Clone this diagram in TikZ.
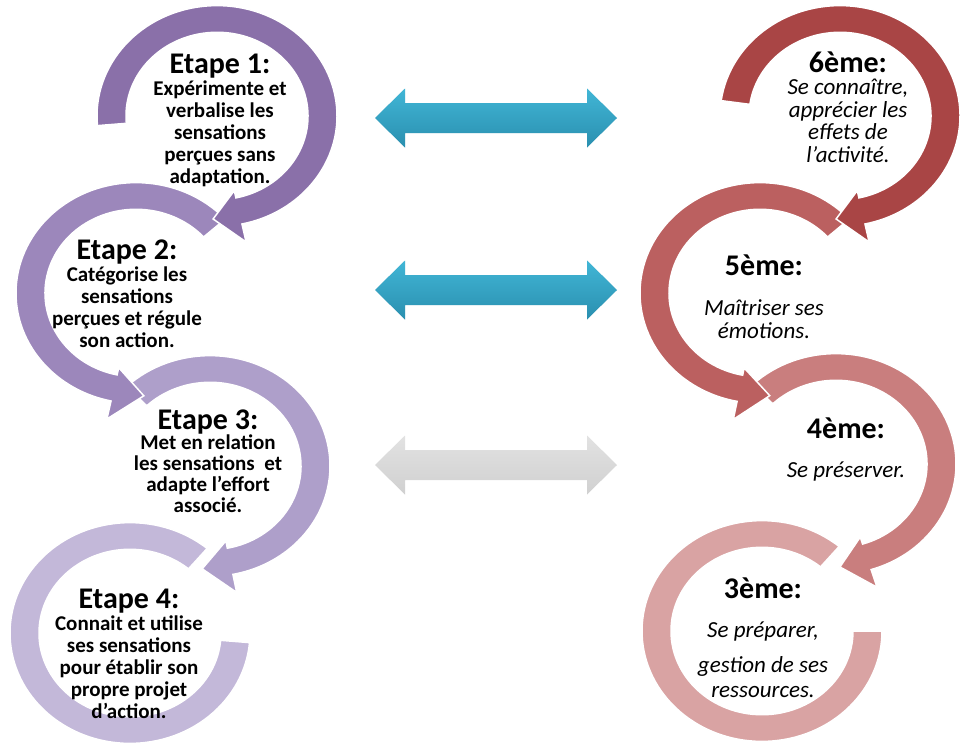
\documentclass[tikz,border=0pt]{standalone}
\usepackage{fontspec}
\setmainfont{Carlito}
\usetikzlibrary{calc}

\definecolor{purpA}{HTML}{8A70A9}
\definecolor{purpB}{HTML}{9C87BB}
\definecolor{purpC}{HTML}{AE9FCA}
\definecolor{purpD}{HTML}{C3B8D9}
\definecolor{redA}{HTML}{A94545}
\definecolor{redB}{HTML}{BB6060}
\definecolor{redC}{HTML}{C97E7E}
\definecolor{redD}{HTML}{D9A3A3}
\definecolor{linkT}{HTML}{41B6D6}
\definecolor{linkB}{HTML}{2A8FAF}
\definecolor{fadeT}{HTML}{E2E2E2}
\definecolor{fadeB}{HTML}{D0D0D0}

\newcommand{\stagetitle}[1]{{\bfseries\upshape\fontsize{30}{30}\selectfont #1}}

\begin{document}
\begin{tikzpicture}[x=1pt,y=1pt,
	stageL/.style={align=center,inner sep=0pt,anchor=base,font=\bfseries\fontsize{21}{22}\selectfont},
	stageR/.style={align=center,inner sep=0pt,anchor=base,font=\itshape\fontsize{23}{22.5}\selectfont}]
	\useasboundingbox (0,0) rectangle (960,-753);
	% rings (lower ones first)
	\foreach \cx/\cy/\a/\b/\t/\h/\col in {130/633/50/355/355/0/purpD,210/466/134/-79/-94/1/purpC,136/293/42/258/274/1/purpB,217/116/185/-78/-92/1/purpA,762/631/50/360/360/0/redD,836/464/134/-73/-88/1/redC,760/293/42/259/275/1/redB,840/116/172/-78/-92/1/redA}{
		\begin{scope}[shift={(\cx,-\cy)},yscale=0.92]
			\fill[\col,draw=white,line width=1.5] (\a:120) arc[start angle=\a,end angle=\b,radius=120] -- (\b:{120+20*\h}) -- (\t:112) -- (\b:{91-8*\h}) -- (\b:91) arc[start angle=\b,end angle=\a,radius=91] -- cycle;
		\end{scope}
	}
	% links between the two columns
	\foreach \y/\ct/\cb/\sh [count=\i] in {118/linkT/linkB/8,290/linkT/linkB/8,465/fadeT/fadeB/0}{
		\coordinate (l\i) at (375,-\y);
		\coordinate (r\i) at (617,-\y);
		\fill[black!\sh,shift={(1,-3)}] (l\i) -- ++(30,29.5) -- ++(0,-14.5) -- ($(r\i)+(-30,15)$) -- ++(0,14.5) -- (r\i) -- ++(-30,-29.5) -- ++(0,14.5) -- ($(l\i)+(30,-15)$) -- ++(0,-14.5) -- cycle;
		\shade[top color=\ct,bottom color=\cb] (l\i) -- ++(30,29.5) -- ++(0,-14.5) -- ($(r\i)+(-30,15)$) -- ++(0,14.5) -- (r\i) -- ++(-30,-29.5) -- ++(0,14.5) -- ($(l\i)+(30,-15)$) -- ++(0,-14.5) -- cycle;
	}
	\node[stageL] (e1) at (220,-183) {\stagetitle{Etape 1:}\\Expérimente et\\verbalise les\\sensations\\perçues sans\\adaptation.};
	\node[stageL] (e2) at (127,-347) {\stagetitle{Etape 2:}\\Catégorise les\\sensations\\perçues et régule\\son action.};
	\node[stageL,font=\bfseries\fontsize{21}{20.7}\selectfont] (e3) at (208,-512) {\stagetitle{Etape 3:}\\Met en relation\\les sensations~ et\\adapte l’effort\\associé.};
	\node[stageL] (e4) at (129,-718) {\stagetitle{Etape 4:}\\Connait et utilise\\ses sensations\\pour établir son\\propre projet\\d’action.};
	\node[stageR] (n6) at (848,-162) {\stagetitle{6ème:}\\Se connaître,\\apprécier les\\effets de\\l’activité.};
	\node[stageR] (n5) at (764,-338) {\stagetitle{5ème:}\\[17.5pt]Maîtriser ses\\émotions.};
	\node[stageR] (n4) at (846,-477) {\stagetitle{4ème:}\\[16.5pt]Se préserver.};
	\node[stageR] (n3) at (763,-697) {\stagetitle{3ème:}\\[16.5pt]Se préparer,\\[12.5pt]gestion de ses\\[2.5pt]ressources.};
\end{tikzpicture}
\end{document}
